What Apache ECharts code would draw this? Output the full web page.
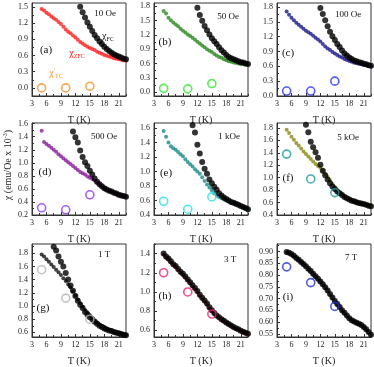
<!DOCTYPE html>
<html>
<head>
<meta charset="utf-8">
<script src="https://cdn.jsdelivr.net/npm/echarts@6/dist/echarts.min.js"></script>
<style>
html, body { margin: 0; padding: 0; background: #fff; }
#chart { width: 374px; height: 367px; }
</style>
</head>
<body>
<div id="chart"></div>
<script>
// temperatures of the ZFC/FC sweeps (K); FC runs use the tail of this list
const temps = [5, 5.5, 6, 6.5, 7, 7.5, 8, 8.5, 9, 9.5, 10, 10.5, 11, 11.5, 12, 12.5, 13, 13.5,
    14, 14.5, 15, 15.5, 16, 16.5, 17, 17.5, 18, 18.5, 19, 19.5, 20, 20.5, 21, 21.5, 22, 22.5];
const tcTemps = [5, 10, 15];
const xTicks = [3, 6, 9, 12, 15, 18, 21];

// (a) 10 Oe
const zfcA = [1.46, 1.43, 1.39, 1.36, 1.32, 1.29, 1.26, 1.22, 1.18, 1.13, 1.08, 1.04, 1.01, 0.97, 0.93, 0.89, 0.85, 0.82,
    0.79, 0.76, 0.74, 0.72, 0.70, 0.67, 0.65, 0.63, 0.61, 0.595, 0.58, 0.565, 0.55, 0.54, 0.53, 0.52, 0.51, 0.50];
const fcA = [1.50, 1.40, 1.30, 1.21, 1.13, 1.05, 0.98, 0.92, 0.86, 0.81, 0.76, 0.72, 0.68, 0.65, 0.62, 0.60, 0.58, 0.56, 0.54, 0.53];
const tcA = [0.0, 0.0, 0.03];
const yTicksA = [0, 0.3, 0.6, 0.9, 1.2, 1.5];

// (b) 50 Oe
const zfcB = [1.70, 1.65, 1.56, 1.51, 1.46, 1.42, 1.38, 1.33, 1.29, 1.25, 1.21, 1.18, 1.14, 1.10, 1.06, 1.02, 0.98, 0.94,
    0.90, 0.87, 0.84, 0.80, 0.77, 0.74, 0.72, 0.69, 0.67, 0.65, 0.64, 0.62, 0.61, 0.60, 0.59, 0.585, 0.58, 0.57];
const fcB = [1.77, 1.62, 1.50, 1.39, 1.30, 1.21, 1.13, 1.07, 1.01, 0.94, 0.88, 0.83, 0.78, 0.74, 0.71, 0.69, 0.67, 0.65, 0.63, 0.62, 0.60, 0.59];
const tcB = [0.08, 0.07, 0.18];
const yTicksB = [0, 0.3, 0.6, 0.9, 1.2, 1.5, 1.8];

// (c) 100 Oe
const zfcC = [1.71, 1.64, 1.58, 1.53, 1.48, 1.44, 1.40, 1.36, 1.32, 1.29, 1.26, 1.22, 1.18, 1.14, 1.10, 1.05, 1.00, 0.96,
    0.93, 0.89, 0.86, 0.83, 0.80, 0.78, 0.75, 0.73, 0.71, 0.69, 0.67, 0.66, 0.65, 0.64, 0.63, 0.62, 0.61, 0.60];
const fcC = [1.78, 1.66, 1.53, 1.41, 1.30, 1.21, 1.13, 1.05, 0.99, 0.92, 0.86, 0.82, 0.78, 0.75, 0.72, 0.70, 0.68, 0.67, 0.65, 0.64, 0.62, 0.61];
const tcC = [0.10, 0.10, 0.30];
const yTicksC = [0, 0.3, 0.6, 0.9, 1.2, 1.5, 1.8];

// (d) 500 Oe
const zfcD = [1.49, 1.32, 1.29, 1.26, 1.23, 1.20, 1.17, 1.13, 1.10, 1.07, 1.04, 1.01, 0.98, 0.95, 0.92, 0.89, 0.86, 0.84,
    0.82, 0.79, 0.77, 0.75, 0.73, 0.70, 0.67, 0.64, 0.61, 0.59, 0.57, 0.56, 0.54, 0.53, 0.51, 0.50, 0.49, 0.48];
const fcD = [1.48, 1.39, 1.31, 1.19, 1.09, 1.01, 0.95, 0.88, 0.82, 0.76, 0.71, 0.67, 0.64, 0.61, 0.59, 0.57, 0.56, 0.54, 0.53, 0.51, 0.50, 0.49, 0.48];
const tcD = [0.31, 0.28, 0.51];
const yTicksD = [0.2, 0.4, 0.6, 0.8, 1.0, 1.2, 1.4, 1.6];

// (e) 1 kOe
const zfcE = [1.56, 1.48, 1.40, 1.35, 1.32, 1.30, 1.27, 1.24, 1.21, 1.17, 1.13, 1.10, 1.07, 1.03, 1.00, 0.97, 0.92, 0.87,
    0.82, 0.78, 0.74, 0.70, 0.67, 0.65, 0.63, 0.615, 0.60, 0.585, 0.57, 0.56, 0.55, 0.535, 0.52, 0.505, 0.49, 0.475];
const fcE = [1.64, 1.54, 1.37, 1.25, 1.13, 1.04, 0.97, 0.89, 0.84, 0.79, 0.75, 0.70, 0.67, 0.64, 0.62, 0.60, 0.58, 0.57, 0.555, 0.54, 0.525, 0.51, 0.495, 0.48];
const tcE = [0.59, 0.48, 0.65];
const yTicksE = [0.4, 0.6, 0.8, 1.0, 1.2, 1.4, 1.6];

// (f) 5 kOe
const zfcF = [1.77, 1.72, 1.66, 1.61, 1.56, 1.52, 1.47, 1.42, 1.38, 1.34, 1.30, 1.26, 1.22, 1.19, 1.16, 1.11, 1.06, 1.01,
    0.96, 0.90, 0.85, 0.80, 0.76, 0.73, 0.70, 0.675, 0.655, 0.635, 0.62, 0.605, 0.595, 0.585, 0.575, 0.565, 0.555, 0.545];
const fcF = [1.85, 1.73, 1.58, 1.49, 1.41, 1.32, 1.21, 1.11, 1.04, 0.97, 0.91, 0.86, 0.82, 0.78, 0.75, 0.72, 0.69, 0.67,
    0.65, 0.63, 0.62, 0.605, 0.595, 0.585, 0.575, 0.565, 0.55, 0.54];
const tcF = [1.38, 0.98, 0.76];
const yTicksF = [0.4, 0.6, 0.8, 1.0, 1.2, 1.4, 1.6, 1.8];

// (g) 1 T
const zfcG = [1.78, 1.75, 1.71, 1.67, 1.63, 1.59, 1.55, 1.51, 1.47, 1.42, 1.38, 1.33, 1.28, 1.22, 1.16, 1.10, 1.04, 0.99,
    0.94, 0.90, 0.86, 0.82, 0.78, 0.75, 0.72, 0.70, 0.68, 0.66, 0.64, 0.63, 0.61, 0.60, 0.59, 0.58, 0.57, 0.56];
const fcG = [1.90, 1.84, 1.75, 1.67, 1.60, 1.50, 1.40, 1.31, 1.23, 1.15, 1.08, 1.02, 0.97, 0.91, 0.87, 0.83, 0.80, 0.76,
    0.73, 0.70, 0.68, 0.66, 0.645, 0.63, 0.62, 0.605, 0.595, 0.585, 0.575, 0.565, 0.555];
const tcG = [1.55, 1.12, 0.80];
const yTicksG = [0.6, 0.8, 1.0, 1.2, 1.4, 1.6, 1.8];

// (h) 3 T
const zfcH = [1.39, 1.36, 1.34, 1.31, 1.28, 1.26, 1.23, 1.20, 1.18, 1.15, 1.12, 1.09, 1.06, 1.03, 1.00, 0.96, 0.93, 0.90,
    0.87, 0.83, 0.80, 0.775, 0.75, 0.73, 0.71, 0.695, 0.675, 0.66, 0.645, 0.63, 0.615, 0.605, 0.59, 0.58, 0.57, 0.56];
const fcH = [1.40, 1.37, 1.35, 1.32, 1.29, 1.27, 1.24, 1.21, 1.19, 1.16, 1.13, 1.10, 1.07, 1.04, 1.01, 0.97, 0.94, 0.91,
    0.88, 0.84, 0.81, 0.78, 0.755, 0.735, 0.715, 0.70, 0.68, 0.665, 0.65, 0.635, 0.62, 0.61, 0.595, 0.585, 0.575, 0.565];
const tcH = [1.20, 1.00, 0.77];
const yTicksH = [0.6, 0.8, 1.0, 1.2, 1.4];

// (i) 7 T
const zfcI = [0.896, 0.893, 0.888, 0.880, 0.871, 0.863, 0.854, 0.845, 0.835, 0.825, 0.815, 0.804, 0.793, 0.782, 0.771, 0.759, 0.746, 0.733,
    0.718, 0.703, 0.688, 0.675, 0.662, 0.649, 0.638, 0.626, 0.615, 0.606, 0.601, 0.596, 0.591, 0.586, 0.578, 0.568, 0.556, 0.545];
const fcI = [0.898, 0.895, 0.890, 0.882, 0.873, 0.865, 0.856, 0.847, 0.837, 0.827, 0.817, 0.806, 0.795, 0.784, 0.773, 0.761, 0.748, 0.735,
    0.720, 0.705, 0.690, 0.677, 0.664, 0.651, 0.640, 0.628, 0.617, 0.608, 0.603, 0.598, 0.593, 0.588, 0.580, 0.570, 0.558, 0.547];
const tcI = [0.835, 0.768, 0.667];
const yTicksI = [0.55, 0.60, 0.65, 0.70, 0.75, 0.80, 0.85, 0.90];

const SERIF = 'Liberation Serif';
const AXIS_COLOR = '#333';

const panels = [
    { tag: '(a)', field: '10 Oe', zfc: zfcA, fc: fcA, tc: tcA, ticks: yTicksA, ymin: -0.15, ymax: 1.57, dec: 1,
      zc: '#ff2020', tcc: '#f2922a', col: 0, row: 0, tagPos: [46, 50], fieldPos: [105, 14] },
    { tag: '(b)', field: '50 Oe', zfc: zfcB, fc: fcB, tc: tcB, ticks: yTicksB, ymin: -0.08, ymax: 1.87, dec: 1,
      zc: '#2b8a1f', tcc: '#33e633', col: 1, row: 0, tagPos: [165, 42], fieldPos: [228, 17] },
    { tag: '(c)', field: '100 Oe', zfc: zfcC, fc: fcC, tc: tcC, ticks: yTicksC, ymin: 0, ymax: 1.88, dec: 1,
      zc: '#1c1c8c', tcc: '#2233ee', col: 2, row: 0, tagPos: [288, 53], fieldPos: [348, 15] },
    { tag: '(d)', field: '500 Oe', zfc: zfcD, fc: fcD, tc: tcD, ticks: yTicksD, ymin: 0.2, ymax: 1.61, dec: 1,
      zc: '#8a1a9a', tcc: '#8a3aee', col: 0, row: 1, tagPos: [45, 172], fieldPos: [104, 137] },
    { tag: '(e)', field: '1 kOe', zfc: zfcE, fc: fcE, tc: tcE, ticks: yTicksE, ymin: 0.4, ymax: 1.67, dec: 1,
      zc: '#1a8a8a', tcc: '#2ae0e6', col: 1, row: 1, tagPos: [166, 173], fieldPos: [229, 137] },
    { tag: '(f)', field: '5 kOe', zfc: zfcF, fc: fcF, tc: tcF, ticks: yTicksF, ymin: 0.4, ymax: 1.88, dec: 1,
      zc: '#8a8a14', tcc: '#1a9a9a', col: 2, row: 1, tagPos: [288, 178], fieldPos: [348, 138] },
    { tag: '(g)', field: '1 T', zfc: zfcG, fc: fcG, tc: tcG, ticks: yTicksG, ymin: 0.53, ymax: 1.94, dec: 1,
      zc: '#111', tcc: '#b5b5b5', col: 0, row: 2, tagPos: [43, 308], fieldPos: [104, 255] },
    { tag: '(h)', field: '3 T', zfc: zfcH, fc: fcH, tc: tcH, ticks: yTicksH, ymin: 0.53, ymax: 1.5, dec: 1,
      zc: '#cc2222', tcc: '#ee2277', col: 1, row: 2, tagPos: [165, 296], fieldPos: [230, 260] },
    { tag: '(i)', field: '7 T', zfc: zfcI, fc: fcI, tc: tcI, ticks: yTicksI, ymin: 0.537, ymax: 0.932, dec: 2,
      zc: '#555', tcc: '#2233cc', col: 2, row: 2, tagPos: [288, 297], fieldPos: [351, 258] },
];

const colLeft = [32, 154, 277];
const rowTop = [3, 123, 244];
const rowH = [93, 92, 93];
const panelW = 94;

// pairs a value list with the last temperatures of the sweep
function pairs(vals) {
    const t = temps.slice(temps.length - vals.length);
    return vals.map((v, i) => [t[i], v]);
}

// half-step minor tick positions
function minor(ticks, min, max) {
    const step = ticks[1] - ticks[0];
    const out = [];
    for (let v = ticks[0] - step / 2; v <= max + 1e-9; v += step) {
        if (v >= min - 1e-9) out.push(+v.toFixed(4));
    }
    return out;
}

const grid = [], xAxis = [], yAxis = [], series = [], graphic = [];

panels.forEach((p, i) => {
    grid.push({
        left: colLeft[p.col], top: rowTop[p.row], width: panelW, height: rowH[p.row],
        show: true, borderColor: AXIS_COLOR, borderWidth: 1
    });
    const xi = xAxis.length, yi = yAxis.length;
    xAxis.push({
        gridIndex: i, type: 'value', min: 3, max: 22.5, position: 'bottom',
        axisLine: { show: true, onZero: false, lineStyle: { color: AXIS_COLOR } },
        axisTick: { inside: true, length: 3, customValues: xTicks, lineStyle: { color: AXIS_COLOR } },
        axisLabel: { customValues: xTicks, fontSize: 8, fontFamily: SERIF, color: '#222', margin: 4 },
        splitLine: { show: false },
        name: 'T (K)', nameLocation: 'middle', nameGap: 19,
        nameTextStyle: { fontSize: 10, fontFamily: SERIF, color: '#222' }
    });
    xAxis.push({
        gridIndex: i, type: 'value', min: 3, max: 22.5, position: 'bottom',
        axisLine: { show: false, onZero: false }, axisLabel: { show: false }, splitLine: { show: false },
        axisTick: { inside: true, length: 2, customValues: minor(xTicks, 3, 22.5), lineStyle: { color: AXIS_COLOR } }
    });
    yAxis.push({
        gridIndex: i, type: 'value', min: p.ymin, max: p.ymax, position: 'left',
        axisLine: { show: true, onZero: false, lineStyle: { color: AXIS_COLOR } },
        axisTick: { inside: true, length: 3, customValues: p.ticks, lineStyle: { color: AXIS_COLOR } },
        axisLabel: {
            customValues: p.ticks, fontSize: 8, fontFamily: SERIF, color: '#222', margin: 4,
            formatter: v => v.toFixed(p.dec)
        },
        splitLine: { show: false }
    });
    yAxis.push({
        gridIndex: i, type: 'value', min: p.ymin, max: p.ymax, position: 'left',
        axisLine: { show: false, onZero: false }, axisLabel: { show: false }, splitLine: { show: false },
        axisTick: { inside: true, length: 2, customValues: minor(p.ticks, p.ymin, p.ymax), lineStyle: { color: AXIS_COLOR } }
    });

    series.push({
        type: 'scatter', xAxisIndex: xi, yAxisIndex: yi, data: pairs(p.zfc),
        symbol: 'circle', symbolSize: 4, itemStyle: { color: p.zc }, silent: true
    });
    series.push({
        type: 'scatter', xAxisIndex: xi, yAxisIndex: yi, data: pairs(p.fc),
        symbol: 'circle', symbolSize: 6, itemStyle: { color: '#000' }, silent: true
    });
    series.push({
        type: 'scatter', xAxisIndex: xi, yAxisIndex: yi, data: tcTemps.map((t, k) => [t, p.tc[k]]),
        symbol: 'circle', symbolSize: 8, z: 5,
        itemStyle: { color: 'rgba(255,255,255,0)', borderColor: p.tcc, borderWidth: 1.6 }, silent: true
    });

    graphic.push({
        type: 'text', x: p.tagPos[0], y: p.tagPos[1],
        style: { text: p.tag, fontSize: 11, fontFamily: SERIF, fill: '#111', align: 'center', verticalAlign: 'middle' }
    });
    graphic.push({
        type: 'text', x: p.fieldPos[0], y: p.fieldPos[1],
        style: { text: p.field, fontSize: 9, fontFamily: SERIF, fill: '#111', align: 'center', verticalAlign: 'middle' }
    });
});

// susceptibility labels of panel (a)
function chiLabel(x, y, sub, color, prime) {
    return {
        type: 'text', x: x, y: y, z: 10,
        style: {
            text: '{c|χ}' + (prime ? '{p|\'}' : '') + '{s|' + sub + '}',
            fill: color, align: 'center', verticalAlign: 'middle',
            rich: {
                c: { fontSize: 10, fontFamily: SERIF, fill: color, lineHeight: 12 },
                p: { fontSize: 7, fontFamily: SERIF, fill: color, lineHeight: 7, verticalAlign: 'top' },
                s: { fontSize: 6, fontFamily: SERIF, fill: color, lineHeight: 6, verticalAlign: 'bottom' }
            }
        }
    };
}
graphic.push(chiLabel(108, 36, 'FC', '#111', false));
graphic.push(chiLabel(77, 53, 'ZFC', '#ff2020', false));
graphic.push(chiLabel(56, 73, 'TC', '#f2922a', true));

// shared y-axis title
graphic.push({
    type: 'text', x: 8, y: 165, rotation: Math.PI / 2,
    style: {
        text: '{a|χ (emu/Oe x 10}{s|-3}{a|)}', align: 'center', verticalAlign: 'middle',
        rich: {
            a: { fontSize: 10, fontFamily: SERIF, fill: '#222', lineHeight: 12 },
            s: { fontSize: 6, fontFamily: SERIF, fill: '#222', lineHeight: 6, verticalAlign: 'top' }
        }
    }
});

const chart = echarts.init(document.getElementById('chart'));
chart.setOption({
    animation: false,
    backgroundColor: '#fff',
    grid: grid,
    xAxis: xAxis,
    yAxis: yAxis,
    series: series,
    graphic: graphic
});
</script>
</body>
</html>
